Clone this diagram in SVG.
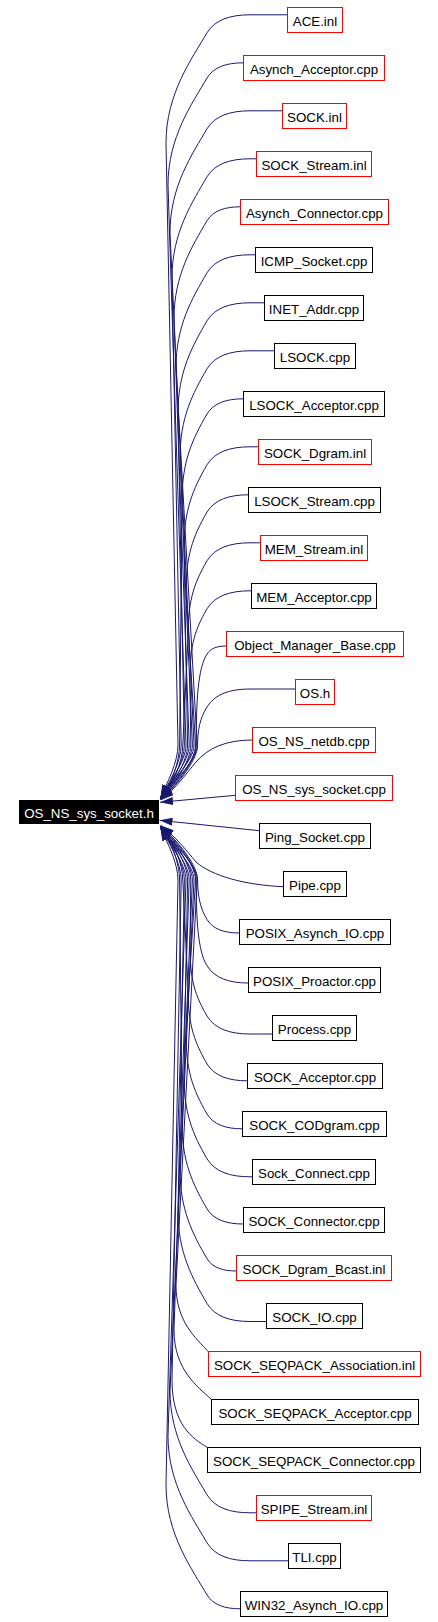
<svg xmlns="http://www.w3.org/2000/svg" width="438" height="1622" viewBox="0 0 438 1622">
<style>
.n rect{fill:#fff;stroke:#000;stroke-width:1}
.n.r rect{stroke:#f00}
text{font-family:"Liberation Sans",Arial,sans-serif;font-size:13.33px;text-anchor:middle;fill:#000}
#main text{fill:#fff}
#edges path{fill:none;stroke:#191970;stroke-width:1;marker-end:url(#ah)}
</style>
<defs>
<marker id="ah" viewBox="0 0 13 8" refX="13" refY="4" markerWidth="13" markerHeight="8" markerUnits="userSpaceOnUse" orient="auto"><path d="M0,0 L13,4 L0,8 z" fill="#191970"/></marker>
</defs>
<rect width="438" height="1622" fill="#fff"/>
<g id="edges">
<path d="M287.3,14.8 H250 C230,14.8 215,19.8 207,32.8 C192.5,57.8 166,93.3 166,142.8 L178,745 C178,762 167.3,783 160.5,797.5"/>
<path d="M243.3,62.8 C226.4,62.8 213.75,67 207,78 C192.5,103 168,136.9 168,185 L186,745 C186,762 167.7,783.4 160.5,797.65"/>
<path d="M282.3,110.8 H250 C230,110.8 215,115.8 207,128.8 C192.5,153.8 170,186 170,232.8 L194,745 C194,762 168.2,783.8 160.5,797.8"/>
<path d="M256.3,158.8 H250 C230,158.8 215,163.8 207,176.8 C192.5,201.8 172,232.4 172,277.8 L181.2,745 C181.2,762 168.6,784.2 160.5,797.95"/>
<path d="M240.3,206.8 C224.8,206.8 213.2,210.7 207,220.7 C192.5,245.7 174,274.6 174,318.7 L189.2,745 C189.2,762 169,784.6 160.5,798.1"/>
<path d="M255.3,254.8 H250 C230,254.8 215,259.8 207,272.8 C192.5,297.8 176,325 176,367.8 L197.2,745 C197.2,762 169.5,785 160.5,798.25"/>
<path d="M264.3,302.8 H250 C230,302.8 215,307.8 207,320.8 C192.5,345.8 178,371.4 178,412.8 L184.4,745 C184.4,762 169.9,785.4 160.5,798.4"/>
<path d="M274.3,350.8 H250 C230,350.8 215,355.8 207,368.8 C192.5,393.8 180,417.8 180,457.8 L192.4,745 C192.4,762 170.3,785.9 160.5,798.55"/>
<path d="M243.3,398.8 C226.4,398.8 213.75,403 207,414 C192.5,439 182,461.3 182,500 L179.6,745 C179.6,762 170.7,786.3 160.5,798.7"/>
<path d="M258.3,446.8 H250 C230,446.8 215,451.8 207,464.8 C192.5,489.8 184,510.5 184,547.8 L187.6,745 C187.6,762 171,786.8 160.5,798.85"/>
<path d="M248.3,494.8 C229.1,494.8 214.7,499.6 207,512.1 C192.5,537.1 186,556.1 186,592.1 L195.6,745 C195.6,762 171.4,787.3 160.5,799"/>
<path d="M260.3,542.8 H250 C230,542.8 215,547.8 207,560.8 C192.5,585.8 188,603.2 188,637.8 L182.8,745 C182.8,762 171.8,787.8 160.5,799.15"/>
<path d="M251.3,590.8 H250 C230,590.8 215,595.8 207,608.8 C192.5,633.8 190,649.5 190,682.8 L190.8,745 C190.8,762 172.1,788.3 160.5,799.3"/>
<path d="M226.3,646 C217.3,646 210.6,648.2 207,654.1 C198,668 196.2,700 196.2,745 C196.2,762 172.5,788.8 160.5,799.45"/>
<path d="M295.3,689 H250 C230,689 215,694 207,707 C200,718 197.6,730 197.6,745 C197.6,762 172.8,789.4 160.5,799.6"/>
<path d="M252.3,740 C226,740 208,748 196,762 C186,774 176,788 161,800"/>
<path d="M235.3,795.3 L160,802.3"/>
<path d="M259.3,830.7 L159.5,820.3"/>
<path d="M283.3,886.7 C245,885 212,876 196,862 C186,850 176,837 161,825.5"/>
<path d="M239.3,933 C224.3,933 213,929.2 207,919.5 C200,908 197.6,895 197.6,880 C197.6,863 172.8,836.14 160.5,825.9"/>
<path d="M248.3,983 C229.1,983 214.7,978.2 207,965.7 C198,951.7 196.2,920 196.2,880 C196.2,863 172.5,836.67 160.5,826.05"/>
<path d="M272.3,1034 H250 C230,1034 215,1029 207,1016 C192.5,991 190,975.3 190,942 L190.8,880 C190.8,863 172.1,837.19 160.5,826.2"/>
<path d="M247.3,1080.8 C228.6,1080.8 214.5,1076.1 207,1063.9 C192.5,1038.9 188,1021.6 188,986.9 L182.8,880 C182.8,863 171.8,837.7 160.5,826.35"/>
<path d="M242.3,1128.8 C225.9,1128.8 213.6,1124.7 207,1114 C192.5,1089 186,1070 186,1034 L195.6,880 C195.6,863 171.4,838.2 160.5,826.5"/>
<path d="M252.3,1176.8 H250 C230,1176.8 215,1171.8 207,1158.8 C192.5,1133.8 184,1113.1 184,1075.8 L187.6,880 C187.6,863 171,838.69 160.5,826.65"/>
<path d="M243.3,1224 C226.4,1224 213.75,1219.8 207,1208.8 C192.5,1183.8 182,1161.5 182,1122.8 L179.6,880 C179.6,863 170.7,839.16 160.5,826.8"/>
<path d="M236.3,1271 C222.7,1271 212.45,1267.6 207,1258.7 C192.5,1233.7 180,1209.7 180,1169.7 L192.4,880 C192.4,863 170.3,839.63 160.5,826.95"/>
<path d="M266.3,1321.5 H250 C230,1321.5 215,1316.5 207,1303.5 C192.5,1278.5 178,1252.9 178,1211.5 L184.4,880 C184.4,863 169.9,840.08 160.5,827.1"/>
<path d="M208.3,1351.7 C196,1338 176,1322 176,1285 L197.2,880 C197.2,863 169.5,840.51 160.5,827.25"/>
<path d="M211.3,1399.3 C198,1387 174,1370 174,1330 L189.2,880 C189.2,863 169,840.94 160.5,827.4"/>
<path d="M207.3,1447.3 C193,1439 172,1425 172,1380 L181.2,880 C181.2,863 168.6,841.35 160.5,827.55"/>
<path d="M256.3,1512.8 H250 C230,1512.8 215,1507.8 207,1494.8 C192.5,1469.8 170,1437.6 170,1390.8 L194,880 C194,863 168.2,841.75 160.5,827.7"/>
<path d="M288.3,1560.8 H250 C230,1560.8 215,1555.8 207,1542.8 C192.5,1517.8 168,1483.95 168,1435.8 L186,880 C186,863 167.7,842.13 160.5,827.85"/>
<path d="M240.3,1608.8 C224.8,1608.8 213.2,1604.9 207,1594.9 C192.5,1569.9 166,1534.4 166,1484.9 L178,880 C178,863 167.3,842.5 160.5,828"/>
</g>
<g id="main"><rect x="19" y="800" width="140" height="24" fill="#000"/><text x="89" y="817.5">OS_NS_sys_socket.h</text></g>
<g id="n0" class="n r"><rect x="287.5" y="7.5" width="55" height="25"/><text x="315" y="25.5">ACE.inl</text></g>
<g id="n1" class="n r"><rect x="243.5" y="55.5" width="141" height="25"/><text x="314" y="73.5">Asynch_Acceptor.cpp</text></g>
<g id="n2" class="n r"><rect x="282.5" y="103.5" width="64" height="25"/><text x="314.5" y="121.5">SOCK.inl</text></g>
<g id="n3" class="n r"><rect x="256.5" y="151.5" width="115" height="25"/><text x="314" y="169.5">SOCK_Stream.inl</text></g>
<g id="n4" class="n r"><rect x="240.5" y="199.5" width="148" height="25"/><text x="314.5" y="217.5">Asynch_Connector.cpp</text></g>
<g id="n5" class="n"><rect x="255.5" y="247.5" width="117" height="25"/><text x="314" y="265.5">ICMP_Socket.cpp</text></g>
<g id="n6" class="n"><rect x="264.5" y="295.5" width="99" height="25"/><text x="314" y="313.5">INET_Addr.cpp</text></g>
<g id="n7" class="n"><rect x="274.5" y="343.5" width="81" height="25"/><text x="315" y="361.5">LSOCK.cpp</text></g>
<g id="n8" class="n"><rect x="243.5" y="391.5" width="141" height="25"/><text x="314" y="409.5">LSOCK_Acceptor.cpp</text></g>
<g id="n9" class="n r"><rect x="258.5" y="439.5" width="113" height="25"/><text x="315" y="457.5">SOCK_Dgram.inl</text></g>
<g id="n10" class="n"><rect x="248.5" y="487.5" width="132" height="25"/><text x="314.5" y="505.5">LSOCK_Stream.cpp</text></g>
<g id="n11" class="n r"><rect x="260.5" y="535.5" width="107" height="25"/><text x="314" y="553.5">MEM_Stream.inl</text></g>
<g id="n12" class="n"><rect x="251.5" y="583.5" width="125" height="25"/><text x="314" y="601.5">MEM_Acceptor.cpp</text></g>
<g id="n13" class="n r"><rect x="226.5" y="631.5" width="177" height="25"/><text x="315" y="649.5">Object_Manager_Base.cpp</text></g>
<g id="n14" class="n r"><rect x="295.5" y="679.5" width="39" height="25"/><text x="315" y="697.5">OS.h</text></g>
<g id="n15" class="n r"><rect x="252.5" y="727.5" width="123" height="25"/><text x="314" y="745.5">OS_NS_netdb.cpp</text></g>
<g id="n16" class="n r"><rect x="235.5" y="775.5" width="157" height="25"/><text x="314" y="793.5">OS_NS_sys_socket.cpp</text></g>
<g id="n17" class="n"><rect x="259.5" y="823.5" width="111" height="25"/><text x="315" y="841.5">Ping_Socket.cpp</text></g>
<g id="n18" class="n"><rect x="283.5" y="871.5" width="63" height="25"/><text x="315" y="889.5">Pipe.cpp</text></g>
<g id="n19" class="n"><rect x="239.5" y="919.5" width="151" height="25"/><text x="315" y="937.5">POSIX_Asynch_IO.cpp</text></g>
<g id="n20" class="n"><rect x="248.5" y="967.5" width="132" height="25"/><text x="314.5" y="985.5">POSIX_Proactor.cpp</text></g>
<g id="n21" class="n"><rect x="272.5" y="1015.5" width="84" height="25"/><text x="314.5" y="1033.5">Process.cpp</text></g>
<g id="n22" class="n"><rect x="247.5" y="1063.5" width="135" height="25"/><text x="315" y="1081.5">SOCK_Acceptor.cpp</text></g>
<g id="n23" class="n"><rect x="242.5" y="1111.5" width="144" height="25"/><text x="314.5" y="1129.5">SOCK_CODgram.cpp</text></g>
<g id="n24" class="n"><rect x="252.5" y="1159.5" width="123" height="25"/><text x="314" y="1177.5">Sock_Connect.cpp</text></g>
<g id="n25" class="n"><rect x="243.5" y="1207.5" width="141" height="25"/><text x="314" y="1225.5">SOCK_Connector.cpp</text></g>
<g id="n26" class="n r"><rect x="236.5" y="1255.5" width="155" height="25"/><text x="314" y="1273.5">SOCK_Dgram_Bcast.inl</text></g>
<g id="n27" class="n"><rect x="266.5" y="1303.5" width="96" height="25"/><text x="314.5" y="1321.5">SOCK_IO.cpp</text></g>
<g id="n28" class="n r"><rect x="208.5" y="1351.5" width="212" height="25"/><text x="314.5" y="1369.5">SOCK_SEQPACK_Association.inl</text></g>
<g id="n29" class="n"><rect x="211.5" y="1399.5" width="207" height="25"/><text x="315" y="1417.5">SOCK_SEQPACK_Acceptor.cpp</text></g>
<g id="n30" class="n"><rect x="207.5" y="1447.5" width="213" height="25"/><text x="314" y="1465.5">SOCK_SEQPACK_Connector.cpp</text></g>
<g id="n31" class="n r"><rect x="256.5" y="1495.5" width="115" height="25"/><text x="314" y="1513.5">SPIPE_Stream.inl</text></g>
<g id="n32" class="n"><rect x="288.5" y="1543.5" width="52" height="25"/><text x="314.5" y="1561.5">TLI.cpp</text></g>
<g id="n33" class="n"><rect x="240.5" y="1591.5" width="147" height="25"/><text x="314" y="1609.5">WIN32_Asynch_IO.cpp</text></g>
</svg>
